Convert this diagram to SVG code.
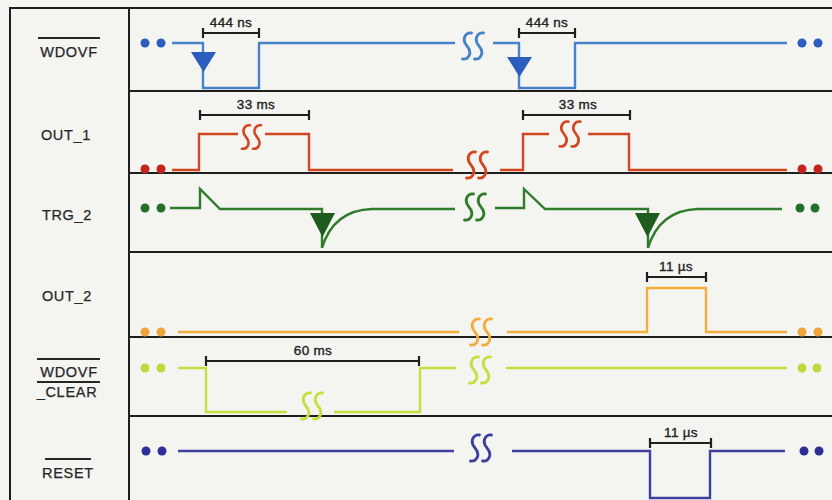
<svg xmlns="http://www.w3.org/2000/svg" xmlns:xlink="http://www.w3.org/1999/xlink" width="832" height="500" viewBox="0 0 832 500">
<defs>
<style>
.frame{stroke:#1e1e1e;stroke-width:2;fill:none}
.sig{fill:none;stroke-width:2.4;stroke-linejoin:miter;stroke-linecap:butt}
.brk{fill:none;stroke-width:2.8;stroke-linecap:round}
.lbl{font-family:"Liberation Sans",Arial,sans-serif;font-size:14.5px;fill:#262626;text-anchor:middle;letter-spacing:0.7px;stroke:#262626;stroke-width:0.25}
.ovl{stroke:#262626;stroke-width:1.8}
.dim{font-family:"Liberation Sans",Arial,sans-serif;font-size:13.5px;fill:#222;text-anchor:middle;stroke:#222;stroke-width:0.35;letter-spacing:0.3px}
.bar{stroke:#1e1e1e;stroke-width:2.2;fill:none}
.wd{stroke:#4682cc}.wdf{fill:#2c5ec0}
.o1{stroke:#d4461f}.o1f{fill:#c4221c}
.tg{stroke:#2f7d2b}.tgf{fill:#22702a}.tgt{fill:#1d5c1d}
.o2{stroke:#f2ad3a}.o2f{fill:#f0a53a}
.cl{stroke:#c9de3e}.clf{fill:#c3d83c}
.rs{stroke:#3c3f9c}.rsf{fill:#2e2f96}
</style>
<path id="s" d="M4.5,-13 C-1,-14 -4.5,-8 -2,-3 L2,3 C4.5,8 1,14 -4.5,13"/>
</defs>
<rect x="0" y="0" width="832" height="500" fill="#f4f4f1"/>

<g id="frame" class="frame">
<line x1="10" y1="8" x2="832" y2="8"/>
<line x1="10" y1="7" x2="10" y2="500"/>
<line x1="129" y1="7" x2="129" y2="500"/>
<line x1="129" y1="91" x2="832" y2="91"/>
<line x1="129" y1="173" x2="832" y2="173"/>
<line x1="129" y1="252" x2="832" y2="252"/>
<line x1="129" y1="337" x2="832" y2="337"/>
<line x1="129" y1="416" x2="832" y2="416"/>
</g>

<g id="labels">
<line class="ovl" x1="38" y1="38" x2="100" y2="38"/>
<text class="lbl" x="69" y="57">WDOVF</text>
<text class="lbl" x="66" y="140">OUT_1</text>
<text class="lbl" x="67" y="220">TRG_2</text>
<text class="lbl" x="67" y="301">OUT_2</text>
<line class="ovl" x1="37" y1="359" x2="100" y2="359"/>
<text class="lbl" x="69" y="377">WDOVF</text>
<line class="ovl" x1="37" y1="382" x2="100" y2="382"/>
<text class="lbl" x="67" y="397">_CLEAR</text>
<line class="ovl" x1="45" y1="459" x2="91" y2="459"/>
<text class="lbl" x="68" y="478">RESET</text>
</g>

<g id="sig-wdovf">
<circle class="wdf" cx="145" cy="43" r="4.5"/><circle class="wdf" cx="161" cy="43" r="4.5"/>
<path class="sig wd" d="M172,43 H203 V88 H259 V43 H455 M493,43 H519 V88 H575 V43 H787"/>
<polygon class="wdf" points="191,52 216,52 203.5,72"/>
<polygon class="wdf" points="507,57 532,57 519.5,77"/>
<g class="brk wd"><use xlink:href="#s" x="467" y="46"/><use xlink:href="#s" x="479" y="46"/></g>
<circle class="wdf" cx="802" cy="43" r="4.5"/><circle class="wdf" cx="818" cy="43" r="4.5"/>
</g>

<g id="sig-out1">
<circle class="o1f" cx="145" cy="169" r="4.5"/><circle class="o1f" cx="161" cy="169" r="4.5"/>
<path class="sig o1" d="M172,170 H199 V134 H238 M265,134 H309 V170 H453 M500,170 H523 V134 H549 M588,134 H629 V170 H787"/>
<g class="brk o1"><use xlink:href="#s" transform="translate(246,137) scale(0.9)"/><use xlink:href="#s" transform="translate(257,137) scale(0.9)"/></g>
<g class="brk o1"><use xlink:href="#s" x="471" y="165"/><use xlink:href="#s" x="483" y="165"/></g>
<g class="brk o1"><use xlink:href="#s" transform="translate(564,134) scale(0.95)"/><use xlink:href="#s" transform="translate(576,134) scale(0.95)"/></g>
<circle class="o1f" cx="802" cy="169" r="4.5"/><circle class="o1f" cx="818" cy="169" r="4.5"/>
</g>

<g id="sig-trg2">
<circle class="tgf" cx="145" cy="208" r="4.5"/><circle class="tgf" cx="161" cy="208" r="4.5"/>
<path class="sig tg" d="M170,208 H200 V189 L220,209 H322 V248 M322,248 C328,228 342,210 372,209 H455 M495,208 H524 V189 L545,209 H648 V248 M648,248 C654,228 668,210 698,209 H782"/>
<polygon class="tgt" points="310,213 335,213 322.5,237"/>
<polygon class="tgt" points="635,213 660,213 647.5,237"/>
<g class="brk tg"><use xlink:href="#s" x="469" y="207"/><use xlink:href="#s" x="481" y="207"/></g>
<circle class="tgf" cx="800" cy="208" r="4.5"/><circle class="tgf" cx="815" cy="208" r="4.5"/>
</g>

<g id="sig-out2">
<circle class="o2f" cx="145" cy="332" r="4.5"/><circle class="o2f" cx="161" cy="332" r="4.5"/>
<path class="sig o2" d="M178,332 H459 M507,332 H647 V288 H706 V332 H787"/>
<g class="brk o2"><use xlink:href="#s" x="475" y="332"/><use xlink:href="#s" x="487" y="332"/></g>
<circle class="o2f" cx="802" cy="332" r="4.5"/><circle class="o2f" cx="818" cy="332" r="4.5"/>
</g>

<g id="sig-wdovf-clear">
<circle class="clf" cx="145" cy="368" r="4.5"/><circle class="clf" cx="161" cy="368" r="4.5"/>
<path class="sig cl" d="M178,368 H206 V412 H287 M334,412 H420 V368 H456 M506,368 H787"/>
<g class="brk cl"><use xlink:href="#s" x="306" y="406"/><use xlink:href="#s" x="318" y="406"/></g>
<g class="brk cl"><use xlink:href="#s" x="474" y="370"/><use xlink:href="#s" x="486" y="370"/></g>
<circle class="clf" cx="802" cy="368" r="4.5"/><circle class="clf" cx="817" cy="368" r="4.5"/>
</g>

<g id="sig-reset">
<circle class="rsf" cx="146" cy="451" r="4.5"/><circle class="rsf" cx="162" cy="451" r="4.5"/>
<path class="sig rs" d="M178,451 H454 M512,451 H650 V498 H710 V451 H785"/>
<g class="brk rs"><use xlink:href="#s" x="475" y="448"/><use xlink:href="#s" x="487" y="448"/></g>
<circle class="rsf" cx="804" cy="451" r="4.5"/><circle class="rsf" cx="819" cy="451" r="4.5"/>
</g>

<g id="connectors">
<g class="bar">
<path d="M203,33 H259 M203,28 V38 M259,28 V38"/>
<path d="M519,33 H575 M519,28 V38 M575,28 V38"/>
<path d="M200,115 H309 M200,110 V120 M309,110 V120"/>
<path d="M523,115 H630 M523,110 V120 M630,110 V120"/>
<path d="M647,277 H706 M647,272 V282 M706,272 V282"/>
<path d="M206,361 H419 M206,356 V366 M419,356 V366"/>
<path d="M650,443 H711 M650,438 V448 M711,438 V448"/>
</g>
<text class="dim" x="231" y="27">444 ns</text>
<text class="dim" x="547" y="27">444 ns</text>
<text class="dim" x="256" y="109">33 ms</text>
<text class="dim" x="578" y="109">33 ms</text>
<text class="dim" x="676" y="271">11 µs</text>
<text class="dim" x="313" y="355">60 ms</text>
<text class="dim" x="681" y="437">11 µs</text>
</g>
</svg>
